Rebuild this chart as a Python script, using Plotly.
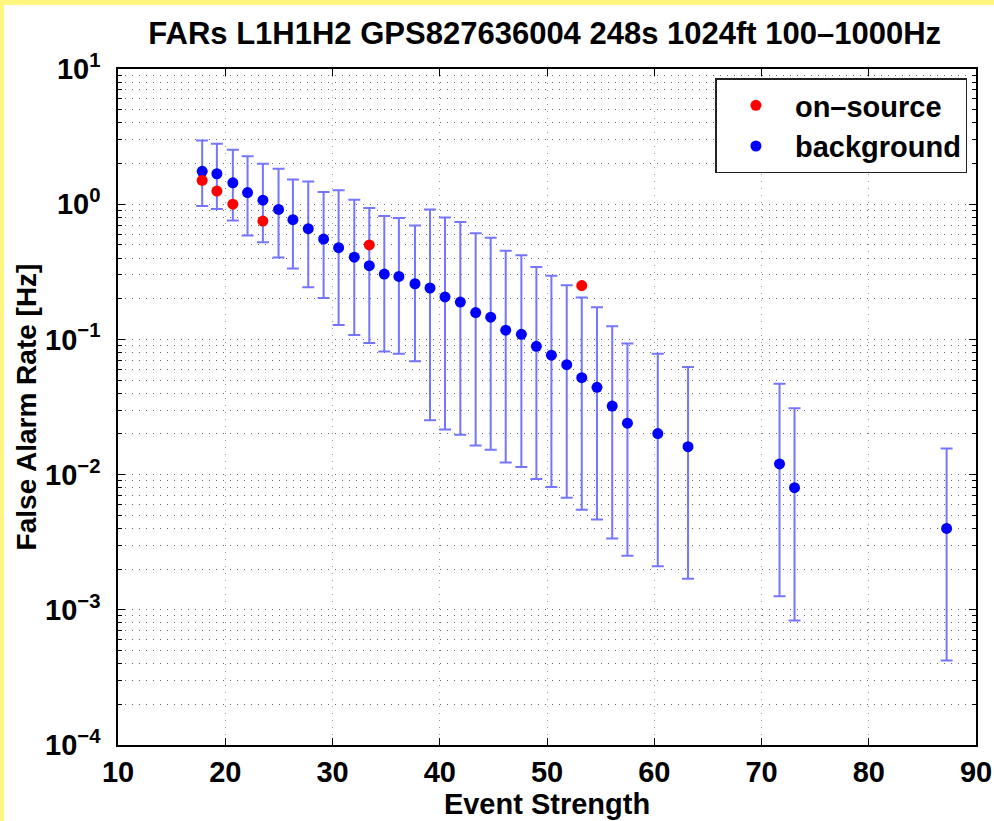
import plotly.graph_objects as go

# ---- data ----
strength = [17.85, 19.22, 20.71, 22.08, 23.51, 24.97, 26.31, 27.74, 29.17, 30.57,
            32.03, 33.43, 34.83, 36.19, 37.69, 39.09, 40.49, 41.92, 43.35, 44.75,
            46.15, 47.61, 49.01, 50.41, 51.84, 53.24, 54.66, 56.08, 57.50, 60.33,
            63.15, 71.68, 73.08, 87.26]
far = [1.75, 1.68, 1.44, 1.22, 1.07, 0.915, 0.768, 0.659, 0.552, 0.477,
       0.406, 0.351, 0.304, 0.292, 0.258, 0.240, 0.206, 0.189, 0.158, 0.146,
       0.117, 0.109, 0.0888, 0.0765, 0.065, 0.0521, 0.0442, 0.0321, 0.024, 0.0201,
       0.0161, 0.0120, 0.0080, 0.0040]
far_upper = [2.96, 2.80, 2.53, 2.26, 1.99, 1.83, 1.52, 1.47, 1.23, 1.27,
             1.08, 0.936, 0.817, 0.789, 0.697, 0.915, 0.799, 0.737, 0.611, 0.565,
             0.453, 0.420, 0.343, 0.296, 0.252, 0.204, 0.173, 0.125, 0.0934, 0.0784,
             0.0624, 0.047, 0.031, 0.0156]
far_lower = [0.968, 0.920, 0.759, 0.588, 0.522, 0.404, 0.335, 0.243, 0.202, 0.128,
             0.108, 0.0939, 0.0815, 0.0784, 0.0688, 0.0252, 0.0216, 0.0197, 0.0164, 0.0153,
             0.0123, 0.0114, 0.00926, 0.00808, 0.00675, 0.0055, 0.00466, 0.00337, 0.00251, 0.0021,
             0.0017, 0.00126, 0.000835, 0.000422]

onsource_strength = [17.85, 19.22, 20.71, 23.51, 33.43, 53.24]
onsource_far = [1.5, 1.25, 1.0, 0.75, 0.5, 0.25]

x_ticks = [10, 20, 30, 40, 50, 60, 70, 80, 90]
y_tickvals = [1e-4, 1e-3, 1e-2, 1e-1, 1e0, 1e1]
y_ticktext = ["10<sup>\u22124</sup>", "10<sup>\u22123</sup>", "10<sup>\u22122</sup>",
              "10<sup>\u22121</sup>", "10<sup>0</sup>", "10<sup>1</sup>"]

title_text = "FARs L1H1H2 GPS827636004 248s 1024ft 100\u20131000Hz"

err_plus = [u - f for u, f in zip(far_upper, far)]
err_minus = [f - l for f, l in zip(far, far_lower)]

FONT = "Liberation Sans, Arial, sans-serif"
YELLOW = "#fff57f"

fig = go.Figure()
fig.add_trace(go.Scatter(
    x=strength, y=far, mode="markers", name="background",
    marker=dict(color="#0000ff", size=11),
    error_y=dict(type="data", symmetric=False, array=err_plus, arrayminus=err_minus,
                 color="#7575ff", thickness=2, width=6),
    legendrank=2,
))
fig.add_trace(go.Scatter(
    x=onsource_strength, y=onsource_far, mode="markers", name="on\u2013source",
    marker=dict(color="#ff0000", size=11),
    legendrank=1,
))

grid_col = "#6a6a6a"
grid_dash = "1px,6px"
fig.update_xaxes(
    range=[10, 90], tickvals=x_ticks, ticks="inside", ticklen=7, tickwidth=1,
    tickcolor="black", showline=True, linecolor="black", linewidth=1.5, mirror="allticks",
    showgrid=True, gridcolor="#9a9a9a", griddash=grid_dash, gridwidth=1, zeroline=False,
    tickfont=dict(family=FONT, size=29, color="black", weight="bold"),
    title=dict(text="Event Strength", font=dict(family=FONT, size=29, color="black", weight="bold"),
               standoff=2),
)
fig.update_yaxes(
    type="log", range=[-4, 1], tickvals=y_tickvals, ticktext=y_ticktext,
    ticks="inside", ticklen=7, tickwidth=1, tickcolor="black",
    showline=True, linecolor="black", linewidth=1.5, mirror="allticks",
    showgrid=True, gridcolor=grid_col, griddash=grid_dash, gridwidth=1, zeroline=False,
    minor=dict(dtick="D1", ticks="inside", ticklen=4, tickcolor="black", showgrid=True,
               gridcolor=grid_col, griddash=grid_dash, gridwidth=1),
    ticklabelstandoff=10,
    tickfont=dict(family=FONT, size=29, color="black", weight="bold"),
    title=dict(text="False Alarm Rate [Hz]", font=dict(family=FONT, size=28, color="black", weight="bold"),
               standoff=0),
)

fig.update_layout(
    width=994, height=821,
    margin=dict(l=117.5, r=18.3, t=68.6, b=76.4, autoexpand=False),
    paper_bgcolor="white", plot_bgcolor="white",
    title=dict(text=title_text, x=0.548, xanchor="center", xref="container",
               y=1 - 33 / 821, yanchor="middle", yref="container",
               font=dict(family=FONT, size=31, color="black", weight="bold")),
    legend=dict(x=0.99, xanchor="right", y=0.986, yanchor="top", itemwidth=68,
                bgcolor="white", bordercolor="#222222", borderwidth=1.5,
                font=dict(family=FONT, size=29, color="black", weight="bold")),
)

# thin yellow strips along the top and left edge of the page (fixed overlays)
post_js = (
    "document.documentElement.style.background='white';"
    "document.body.style.background='white';"
    "document.body.style.margin='0px';"
    "document.body.style.overflow='hidden';"
    "var t=document.createElement('div');"
    "t.style.cssText='position:fixed;left:0;top:0;width:994px;height:5px;"
    "background:" + YELLOW + ";pointer-events:none;z-index:10;';"
    "document.body.appendChild(t);"
    "var l=document.createElement('div');"
    "l.style.cssText='position:fixed;left:0;top:0;width:4px;height:821px;"
    "background:" + YELLOW + ";pointer-events:none;z-index:10;';"
    "document.body.appendChild(l);"
)

fig.write_html("out.html", config={"displayModeBar": False}, post_script=post_js)
